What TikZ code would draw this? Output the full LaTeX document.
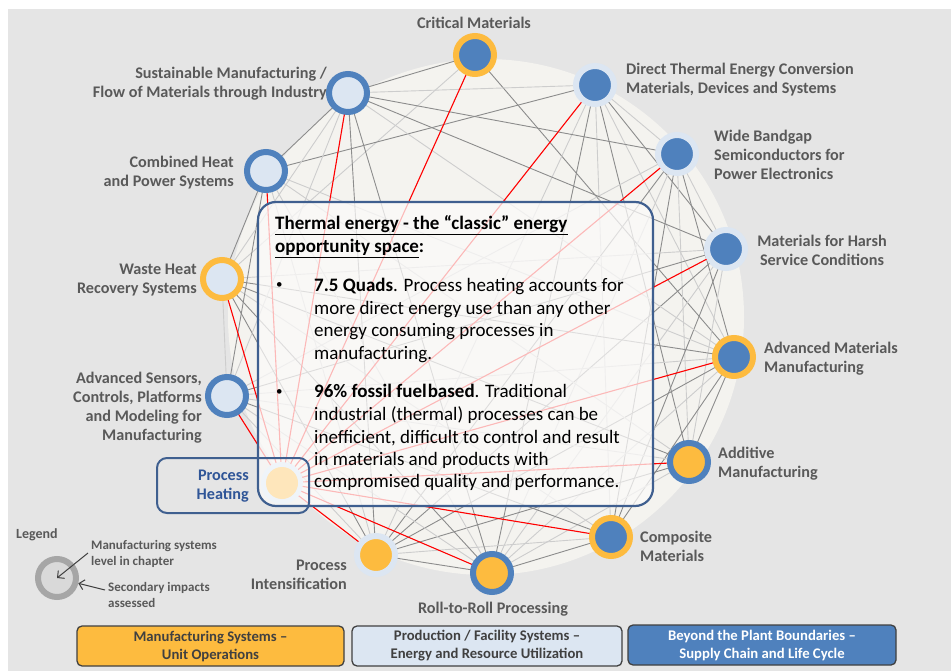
\documentclass[tikz,border=0pt]{standalone}
\usepackage{fontspec}
\setmainfont{Carlito}
\usetikzlibrary{arrows.meta}
\pgfdeclarelayer{back}
\pgfdeclarelayer{edges}
\pgfsetlayers{back,edges,main}
\definecolor{bggray}{HTML}{E5E5E5}
\definecolor{bigc}{HTML}{F4F3EF}
\definecolor{nblue}{HTML}{4F81BD}
\definecolor{norange}{HTML}{FDBB3F}
\definecolor{nlight}{HTML}{DCE6F2}
\definecolor{lblgray}{HTML}{595959}
\definecolor{phfill}{HTML}{FEE6BB}
\definecolor{phblue}{HTML}{2F5597}
\definecolor{boxblue}{HTML}{3F5F8F}
\definecolor{edark}{HTML}{8C8C8C}
\definecolor{elight}{HTML}{CDCDCD}
\definecolor{legring}{HTML}{A6A6A6}
\definecolor{legfill}{HTML}{D9D9D9}
\definecolor{darktext}{HTML}{404040}
\begin{document}
\begin{tikzpicture}[x=1pt,y=-1pt,
  ring/.style 2 args={circle, draw=#1, fill=#2, line width=6pt, minimum size=38pt, inner sep=0pt},
  lbl/.style={text=lblgray, font=\fontsize{16.2}{19}\selectfont\bfseries, inner sep=0pt},
  legtxt/.style={text=lblgray, font=\fontsize{13}{16}\selectfont\bfseries, inner sep=0pt},
  ttl/.style={anchor=base west, inner sep=0pt, font=\fontsize{19}{22.5}\selectfont\bfseries},
  body/.style={anchor=base west, inner sep=0pt, font=\fontsize{19}{22.5}\selectfont},
  bulletnode/.style={anchor=base west, inner sep=0pt, font=\fontsize{13}{16}\selectfont},
  edgedark/.style={draw=edark, line width=0.9pt},
  edgelight/.style={draw=elight, line width=0.9pt},
  rededge/.style={draw=red, line width=1.1pt},
  legarrow/.style={draw=darktext, line width=1pt, -{Straight Barb[length=5pt,width=10pt]}},
  botbox/.style={draw=darktext, line width=1.3pt, rounded corners=5pt, minimum height=40pt, inner sep=0pt, align=center, font=\fontsize{14.7}{18}\selectfont\bfseries}
]
\useasboundingbox (0,0) rectangle (951,671);
\begin{pgfonlayer}{back}
  \fill[white] (0,0) rectangle (951,671);
  \fill[bggray] (8,9) rectangle (951,671);
  \fill[bigc] (486,317) circle (258);
\end{pgfonlayer}

% outer nodes
\node[ring={norange}{nblue}] (cm) at (475,55) {};
\node[ring={nlight}{nblue}] (dt) at (595,85) {};
\node[ring={nlight}{nblue}] (wb) at (677,154) {};
\node[ring={nlight}{nblue}] (hs) at (726,249) {};
\node[ring={norange}{nblue}] (amm) at (734,357) {};
\node[ring={nblue}{norange}] (am) at (689,462) {};
\node[ring={norange}{nblue}] (co) at (611,537) {};
\node[ring={nblue}{norange}] (rr) at (492,573) {};
\node[ring={nlight}{norange}] (pi) at (376,555) {};
\node[ring={nblue}{nlight}] (as) at (227,396) {};
\node[ring={norange}{nlight}] (wh) at (222,279) {};
\node[ring={nblue}{nlight}] (chp) at (266,171) {};
\node[ring={nblue}{nlight}] (sm) at (348,93) {};

% text box
\draw[boxblue, line width=2.2pt, rounded corners=18pt, fill=white!60!bigc, fill opacity=0.74] (258,202) rectangle (653,506);
% process heating
\draw[boxblue, line width=2pt, rounded corners=10pt] (157,458) rectangle (309,513);
\fill[nlight!45!white] (282,483) circle (21);
\node[circle, fill=phfill, minimum size=32pt, inner sep=0pt] (ph) at (282,483) {};

% edges
\begin{pgfonlayer}{edges}
\foreach \a/\b [count=\n] in {cm/sm, cm/wh, cm/amm,
  dt/sm, dt/chp, dt/wb, dt/hs, dt/amm, dt/am, dt/co, dt/rr, dt/pi,
  wb/sm, wb/hs, wb/amm, wb/am, wb/co, wb/rr, wb/pi, wb/as,
  hs/sm, hs/am, hs/co, hs/rr, hs/pi, hs/wh, hs/as,
  amm/sm, amm/co, amm/rr, amm/pi, amm/as, amm/wh, amm/chp, amm/am,
  am/rr, am/pi, am/as, am/wh, am/chp,
  co/rr, co/pi, co/as, co/wh,
  rr/pi, rr/as, rr/wh, rr/chp, rr/sm,
  pi/as, pi/wh, pi/chp, pi/sm,
  as/wh, as/chp, as/sm,
  wh/chp, wh/sm, chp/sm}{
  \ifodd\n\relax
    \draw[edgedark] (\a.center) -- (\b.center);
  \else
    \draw[edgelight] (\a.center) -- (\b.center);
  \fi
}
\foreach \t in {cm,dt,wb,hs,amm,am,co,rr,pi,as,wh,chp,sm}
  \draw[rededge] (ph.center) -- (\t.center);
\end{pgfonlayer}

% labels
\node[lbl] (lcm) at (474,23) {Critical Materials};
\node[lbl, anchor=east, align=right] (lsm) at (327,84) {Sustainable Manufacturing /\\Flow of Materials through Industry};
\node[lbl, anchor=west, align=left] (ldt) at (626,80) {Direct Thermal Energy Conversion\\Materials, Devices and Systems};
\node[lbl, anchor=west, align=left] (lwb) at (714,155) {Wide Bandgap\\Semiconductors for\\Power Electronics};
\node[lbl, align=center] (lhs) at (822,250) {Materials for Harsh\\Service Conditions};
\node[lbl, anchor=west, align=left] (lamm) at (764,359) {Advanced Materials\\Manufacturing};
\node[lbl, anchor=west, align=left] (lam) at (718,464) {Additive\\Manufacturing};
\node[lbl, anchor=west, align=left] (lco) at (640,546.5) {Composite\\Materials};
\node[lbl] (lrr) at (493,609.5) {Roll-to-Roll Processing};
\node[lbl, anchor=east, align=right] (lpi) at (347,575) {Process\\Intensification};
\node[lbl, anchor=east, align=right] (las) at (202,408) {Advanced Sensors,\\Controls, Platforms\\and Modeling for\\Manufacturing};
\node[lbl, anchor=east, align=right] (lwh) at (197,280) {Waste Heat\\Recovery Systems};
\node[lbl, anchor=east, align=right] (lchp) at (234,173) {Combined Heat\\and Power Systems};
\node[lbl, text=phblue, anchor=east, align=right] (lph) at (249,486.5) {Process\\Heating};

% text box content
\node[ttl] (tt1) at (275,230) {\underline{Thermal energy - the “classic” energy}};
\node[ttl] (tt2) at (275,253) {\underline{opportunity space}:};
\node[bulletnode] (bu1) at (276,289) {\textbullet};
\node[body] (p11) at (314,291) {\textbf{7.5 Quads}. Process heating accounts for};
\node[body] (p12) at (314,314) {more direct energy use than any other};
\node[body] (p13) at (314,337) {energy consuming processes in};
\node[body] (p14) at (314,359) {manufacturing.};
\node[bulletnode] (bu2) at (276,395) {\textbullet};
\node[body] (p21) at (314,397) {\textbf{96\% fossil fuel\hspace{1pt}based}. Traditional};
\node[body] (p22) at (314,420) {industrial (thermal) processes can be};
\node[body] (p23) at (314,443) {inefficient, difficult to control and result};
\node[body] (p24) at (314,465) {in materials and products with};
\node[body] (p25) at (314,487) {compromised quality and performance.};

% legend
\node[legtxt, anchor=west, font=\fontsize{14}{16}\selectfont\bfseries] (legh) at (16,535) {Legend};
\node[circle, draw=legring, fill=legfill, line width=6pt, minimum size=38pt, inner sep=0pt] (legc) at (57,578) {};
\node[legtxt, anchor=west, align=left] (legt1) at (91,554) {Manufacturing systems\\level in chapter};
\node[legtxt, anchor=west, align=left] (legt2) at (108,595) {Secondary impacts\\assessed};
\coordinate (a1s) at (88,553);
\coordinate (a2s) at (105,590);
\draw[legarrow] (a1s) -- (legc.center);
\draw[legarrow] (a2s) -- (legc);

% bottom boxes
\node[botbox, fill=norange, text=darktext, minimum width=267pt] (bb1) at (210.5,646) {Manufacturing Systems –\\Unit Operations};
\node[botbox, fill=nlight, text=darktext, minimum width=270pt] (bb2) at (487,646) {Production / Facility Systems –\\Energy and Resource Utilization};
\node[botbox, fill=nblue, text=white, minimum width=268pt] (bb3) at (762,645) {Beyond the Plant Boundaries –\\Supply Chain and Life Cycle};
\end{tikzpicture}
\end{document}
